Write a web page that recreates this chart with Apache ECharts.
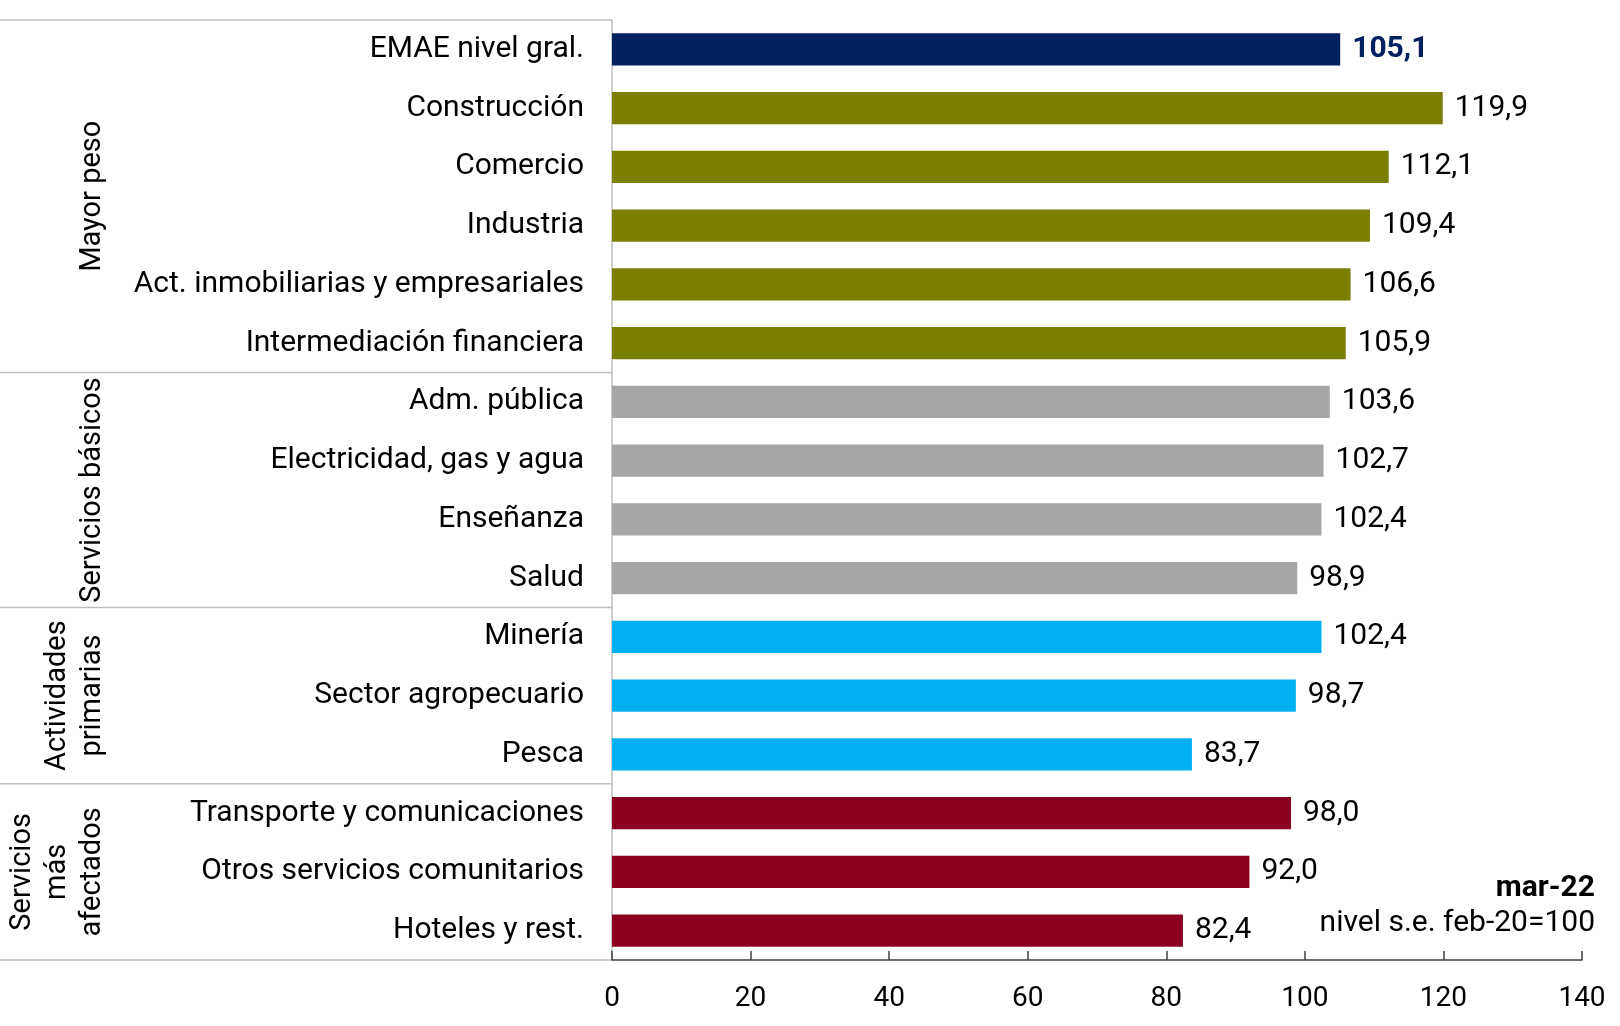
<!DOCTYPE html>
<html>
<head>
<meta charset="utf-8">
<script src="https://cdn.jsdelivr.net/npm/echarts@6/dist/echarts.min.js"></script>
<style>
html,body{margin:0;padding:0;background:#fff;}
#chart{width:1620px;height:1026px;}
</style>
</head>
<body>
<div id="chart"></div>
<script>
const categories = [
  'EMAE nivel gral.', 'Construcción', 'Comercio', 'Industria',
  'Act. inmobiliarias y empresariales', 'Intermediación financiera',
  'Adm. pública', 'Electricidad, gas y agua', 'Enseñanza', 'Salud',
  'Minería', 'Sector agropecuario', 'Pesca',
  'Transporte y comunicaciones', 'Otros servicios comunitarios', 'Hoteles y rest.'
];
const values = [105.1, 119.9, 112.1, 109.4, 106.6, 105.9, 103.6, 102.7, 102.4, 98.9, 102.4, 98.7, 83.7, 98.0, 92.0, 82.4];
const groupNames = ['Mayor peso', 'Servicios básicos', 'Actividades\nprimarias', 'Servicios\nmás\nafectados'];
const groupSizes = [6, 4, 3, 3];
const groupColors = ['#7A7F00', '#A6A6A6', '#00B0F0', '#8B001E'];
const totalColor = '#002060';
const xTicks = [0, 20, 40, 60, 80, 100, 120, 140];
const noteTitle = 'mar-22';
const noteText = 'nivel s.e. feb-20=100';

const FONT = 'Roboto, "Noto Sans", sans-serif';
const FS = 30;

const barColors = [];
groupSizes.forEach((n, g) => { for (let i = 0; i < n; i++) barColors.push(groupColors[g]); });
barColors[0] = totalColor;

const data = values.map((v, i) => ({
  value: v,
  itemStyle: { color: barColors[i] },
  label: i === 0 ? { fontWeight: 'bold', color: totalColor } : {}
}));

const chart = echarts.init(document.getElementById('chart'));
chart.setOption({
  animation: false,
  backgroundColor: '#fff',
  grid: { left: 612, right: 38, top: 20, bottom: 66, containLabel: false },
  xAxis: {
    type: 'value', min: xTicks[0], max: xTicks[xTicks.length - 1], interval: 20,
    axisLine: { show: true, lineStyle: { color: '#404040', width: 1.5 } },
    axisTick: { show: true, inside: true, length: 9, lineStyle: { color: '#404040', width: 1.5 } },
    axisLabel: { fontSize: 28, color: '#000', fontFamily: FONT, margin: 25 },
    splitLine: { show: false }
  },
  yAxis: {
    type: 'category', data: categories, inverse: true,
    axisLine: { show: true, lineStyle: { color: '#BFBFBF', width: 1.5 } },
    axisTick: { show: false },
    axisLabel: { fontSize: FS, color: '#000', fontFamily: FONT, margin: 28, padding: [4, 0, 0, 0] }
  },
  series: [{
    type: 'bar', data: data, barCategoryGap: '45%',
    label: {
      show: true, position: 'right', distance: 12,
      fontSize: FS, color: '#000', fontFamily: FONT, padding: [4, 0, 0, 0],
      formatter: p => p.value.toFixed(1).replace('.', ',')
    }
  }]
});

const c0 = chart.convertToPixel({ yAxisIndex: 0 }, 0);
const c1 = chart.convertToPixel({ yAxisIndex: 0 }, 1);
const band = c1 - c0;
const axisX = chart.convertToPixel({ xAxisIndex: 0 }, 0);
const graphics = [];
let start = 0;
const lineStyle = { stroke: '#BFBFBF', lineWidth: 1.5 };
graphics.push({ type: 'line', shape: { x1: 0, y1: c0 - band / 2, x2: axisX, y2: c0 - band / 2 }, style: lineStyle });
groupSizes.forEach((n, g) => {
  const top = c0 + (start - 0.5) * band;
  const bottom = c0 + (start + n - 0.5) * band;
  graphics.push({ type: 'line', shape: { x1: 0, y1: bottom, x2: axisX, y2: bottom }, style: lineStyle });
  graphics.push({
    type: 'text', x: 110, y: (top + bottom) / 2, rotation: Math.PI / 2,
    style: { text: groupNames[g], align: 'center', verticalAlign: 'bottom', fontSize: 29, lineHeight: 35, fontFamily: FONT, fill: '#000' }
  });
  start += n;
});
graphics.push({ type: 'text', x: 1595, y: 888, style: { text: noteTitle, align: 'right', verticalAlign: 'middle', fontSize: FS, fontWeight: 'bold', fontFamily: FONT, fill: '#000' } });
graphics.push({ type: 'text', x: 1595, y: 923, style: { text: noteText, align: 'right', verticalAlign: 'middle', fontSize: FS, fontFamily: FONT, fill: '#000' } });
chart.setOption({ graphic: graphics });
</script>
</body>
</html>
